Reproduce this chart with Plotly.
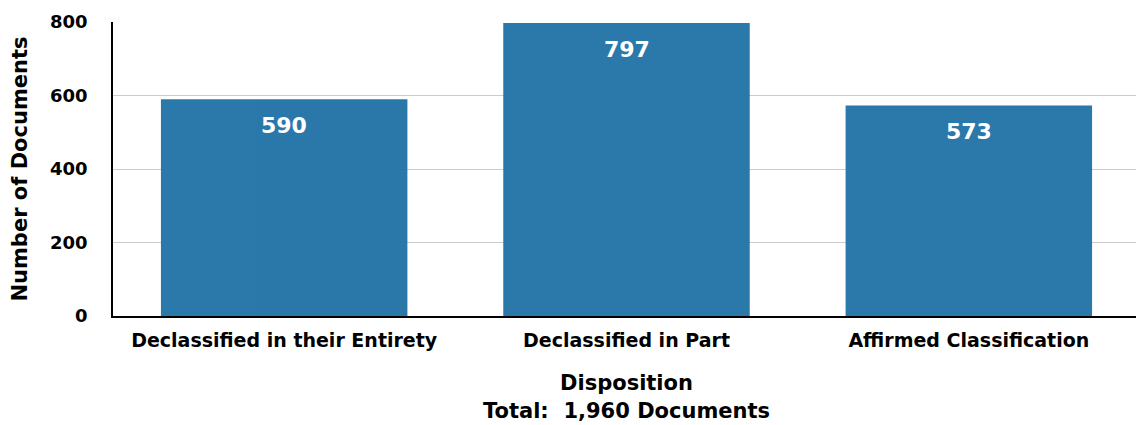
import plotly.graph_objects as go

categories = ["Declassified in their Entirety", "Declassified in Part", "Affirmed Classification"]
values = [590, 797, 573]
y_ticks = [0, 200, 400, 600, 800]

FONT = "DejaVu Sans"

fig = go.Figure()
fig.add_trace(go.Bar(
    x=categories, y=values,
    marker=dict(color="#2474a8", line=dict(width=0)),
    opacity=0.97,
    hoverinfo="skip",
))
for c, v in zip(categories, values):
    fig.add_annotation(x=c, y=v, text=f"<b>{v}</b>", showarrow=False,
                       yanchor="top", yshift=-12,
                       font=dict(family=FONT, size=22, color="white"))

fig.update_layout(
    width=1136, height=417,
    margin=dict(l=105, r=4, t=14, b=109),
    paper_bgcolor="white", plot_bgcolor="white",
    bargap=0.28,
    showlegend=False,
    font=dict(family=FONT, color="black"),
    xaxis=dict(
        automargin=False,
        showline=True, linecolor="black", linewidth=2,
        tickfont=dict(family=FONT, size=19, color="black"),
        ticklabelstandoff=6,
        title=dict(text="<b>Disposition<br>Total:  1,960 Documents</b>",
                   font=dict(family=FONT, size=21, color="black"), standoff=26),
        tickprefix="<b>", ticksuffix="</b>",
    ),
    yaxis=dict(
        automargin=False,
        range=[0, 800], tickvals=y_ticks,
        ticktext=[f"<b>{t}</b>" for t in y_ticks],
        showline=True, linecolor="black", linewidth=1.5,
        showgrid=True, gridcolor="#cccccc", gridwidth=1.2,
        zeroline=False,
        tickfont=dict(family=FONT, size=18, color="black"),
        ticks="", ticklabelstandoff=20,
        title=dict(text="<b>Number of Documents</b>",
                   font=dict(family=FONT, size=21, color="black"), standoff=18),
    ),
)
fig.write_html("out.html")
